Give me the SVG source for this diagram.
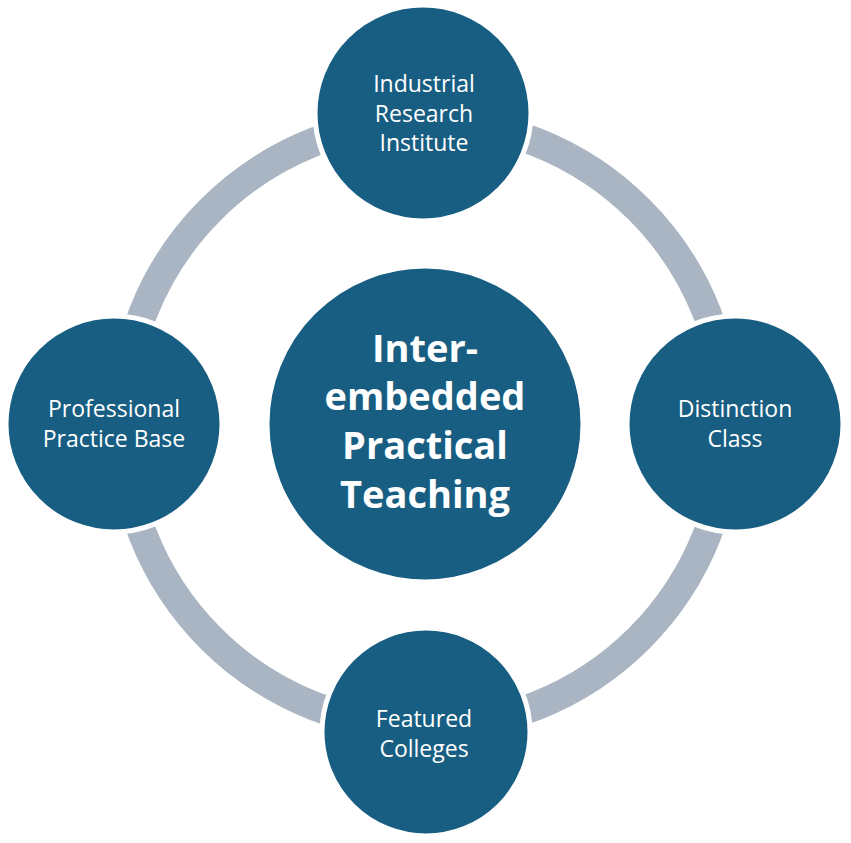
<svg xmlns="http://www.w3.org/2000/svg" width="851" height="843" viewBox="0 0 851 843">
  <style>
    .node { fill: #185e82; stroke: #ffffff; stroke-width: 5; }
    .lbl { font-family: "Open Sans", "Liberation Sans", sans-serif; font-size: 23px; fill: #ffffff; text-anchor: middle; }
    .main { font-family: "Open Sans", "Liberation Sans", sans-serif; font-size: 38px; font-weight: bold; fill: #ffffff; text-anchor: middle; }
  </style>
  <rect width="851" height="843" fill="#ffffff"/>
  <g id="connectors">
    <circle cx="425" cy="424" r="303" fill="none" stroke="#a9b5c2" stroke-width="29"/>
  </g>
  <g id="node-center">
    <circle class="node" cx="425" cy="424" r="158"/>
    <text class="main" x="425" y="362">Inter-</text>
    <text class="main" x="425" y="410">embedded</text>
    <text class="main" x="425" y="459">Practical</text>
    <text class="main" x="425" y="508">Teaching</text>
  </g>
  <g id="node-top">
    <circle class="node" cx="423" cy="113" r="108"/>
    <text class="lbl" x="424" y="92">Industrial</text>
    <text class="lbl" x="424" y="122">Research</text>
    <text class="lbl" x="424" y="151">Institute</text>
  </g>
  <g id="node-left">
    <circle class="node" cx="114" cy="424" r="108"/>
    <text class="lbl" x="114" y="417">Professional</text>
    <text class="lbl" x="114" y="447">Practice Base</text>
  </g>
  <g id="node-right">
    <circle class="node" cx="735" cy="424" r="108"/>
    <text class="lbl" x="735" y="417">Distinction</text>
    <text class="lbl" x="735" y="447">Class</text>
  </g>
  <g id="node-bottom">
    <circle class="node" cx="426" cy="732" r="104"/>
    <text class="lbl" x="424" y="727">Featured</text>
    <text class="lbl" x="424" y="757">Colleges</text>
  </g>
</svg>
